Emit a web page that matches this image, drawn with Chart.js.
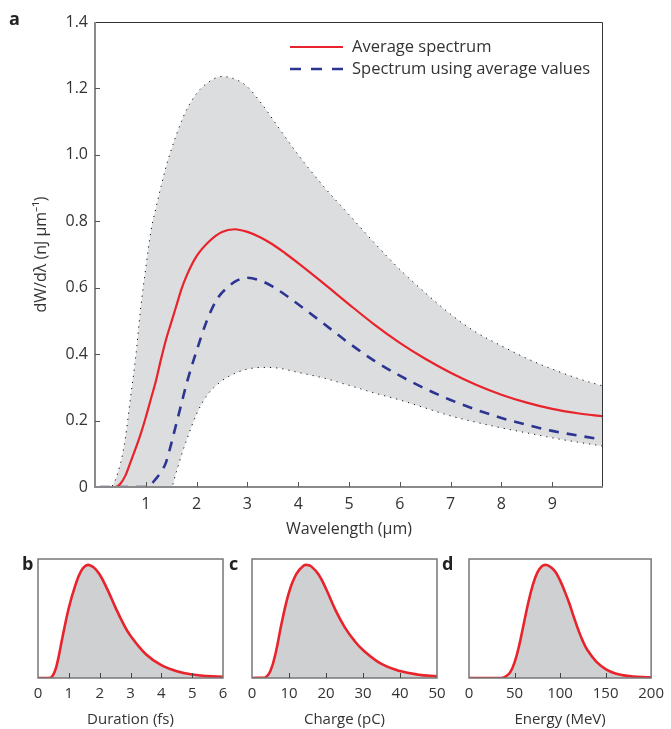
<!DOCTYPE html>
<html><head><meta charset="utf-8">
<script src="https://cdn.jsdelivr.net/npm/chart.js@4/dist/chart.umd.min.js"></script>
<style>
body{margin:0;background:#fff;width:671px;height:729px;position:relative;overflow:hidden;font-family:'Open Sans',sans-serif}
.box{position:absolute}
.lbl{position:absolute;font:bold 18px 'Open Sans',sans-serif;line-height:18px;color:#222}
</style></head><body>
<div class="box" style="left:0;top:0;width:671px;height:540px"><canvas id="main" width="671" height="540"></canvas></div>
<div class="box" style="left:10px;top:545px;width:230px;height:184px"><canvas id="pb" width="230" height="184"></canvas></div>
<div class="box" style="left:224px;top:545px;width:230px;height:184px"><canvas id="pc" width="230" height="184"></canvas></div>
<div class="box" style="left:441px;top:545px;width:230px;height:184px"><canvas id="pd" width="230" height="184"></canvas></div>
<div class="lbl" style="left:9px;top:9px">a</div>
<div class="lbl" style="left:22px;top:554px">b</div>
<div class="lbl" style="left:229px;top:554px">c</div>
<div class="lbl" style="left:442px;top:554px">d</div>
<script>
// ---- main panel (a) data ----
const envX  = [0.1,0.3,0.5,0.6,0.7,0.8,0.9,1.0,1.1,1.2,1.3,1.4,1.5,1.6,1.7,1.8,2.0,2.2,2.5,2.8,3.0,3.3,3.6,4.0,4.5,5.0,5.5,6.0,6.5,7.0,7.5,8.0,8.5,9.0,9.5,10];
const upperY = [0,0,0.07,0.15,0.27,0.39,0.54,0.66,0.77,0.84,0.905,0.965,1.015,1.06,1.10,1.135,1.185,1.215,1.236,1.225,1.205,1.15,1.085,1.0,0.905,0.82,0.735,0.655,0.585,0.52,0.466,0.425,0.387,0.355,0.327,0.304];
const lowerY = [0,0,0,0,0,0,0,0,0,0,0,0,0,0.045,0.095,0.14,0.22,0.275,0.32,0.345,0.355,0.36,0.358,0.345,0.328,0.306,0.283,0.262,0.238,0.214,0.195,0.178,0.163,0.148,0.135,0.123];
const avgX = [0.1,0.4,0.5,0.6,0.7,0.8,0.9,1.0,1.1,1.2,1.3,1.4,1.5,1.6,1.7,1.8,2.0,2.25,2.5,2.75,3.0,3.25,3.5,3.75,4.0,4.5,5.0,5.5,6.0,6.5,7.0,7.5,8.0,8.5,9.0,9.5,10];
const avgY = [0,0,0.01,0.035,0.075,0.116,0.16,0.21,0.265,0.32,0.385,0.445,0.495,0.545,0.595,0.635,0.695,0.74,0.768,0.776,0.768,0.752,0.73,0.703,0.674,0.613,0.55,0.489,0.434,0.386,0.344,0.308,0.278,0.254,0.235,0.222,0.213];
const avgValX = [0.1,1.0,1.1,1.2,1.3,1.4,1.5,1.6,1.7,1.8,2.0,2.2,2.4,2.6,2.8,3.0,3.25,3.5,3.75,4.0,4.5,5.0,5.5,6.0,6.5,7.0,7.5,8.0,8.5,9.0,9.5,10];
const avgValY = [0,0,0.008,0.025,0.045,0.075,0.13,0.19,0.25,0.31,0.41,0.50,0.565,0.60,0.622,0.63,0.622,0.603,0.578,0.55,0.492,0.433,0.38,0.335,0.296,0.262,0.233,0.208,0.187,0.169,0.155,0.143];
const xTicks = [1,2,3,4,5,6,7,8,9];
const xTickLabels = ['1','2','3','4','5','6','7','8','9'];
const yTicks = [0,0.2,0.4,0.6,0.8,1.0,1.2,1.4];
const yTickLabels = ['0','0.2','0.4','0.6','0.8','1.0','1.2','1.4'];
const legendLabels = ['Average spectrum','Spectrum using average values'];

// ---- small panels (b, c, d) data ----
const durX = [0,0.3,0.45,0.6,0.8,1.0,1.2,1.4,1.6,1.8,2.0,2.25,2.5,2.75,3.0,3.5,4.0,4.5,5.0,5.5,6.0];
const durY = [0,0,0.01,0.1,0.35,0.59,0.77,0.9,0.95,0.93,0.87,0.745,0.6,0.465,0.355,0.2,0.108,0.057,0.029,0.016,0.011];
const chgX = [0,3.5,5,6.5,8,10,12,14,15,16,18,20,22.5,25,27.5,30,35,40,45,50];
const chgY = [0,0.003,0.06,0.225,0.46,0.72,0.875,0.945,0.95,0.938,0.87,0.75,0.575,0.43,0.32,0.235,0.118,0.058,0.028,0.014];
const enX = [0,35,40,45,50,55,60,65,70,75,80,85,90,95,100,105,110,115,120,125,130,140,150,160,170,180,190,200];
const enY = [0,0,0.012,0.045,0.13,0.27,0.45,0.63,0.78,0.885,0.94,0.95,0.93,0.89,0.82,0.73,0.63,0.515,0.405,0.31,0.235,0.135,0.075,0.04,0.022,0.013,0.008,0.006];

const RED = '#e8232b', BLUE = '#2d3592', ENV = '#dcdddf', SMALLFILL = '#cfd0d2', TXT = '#333', AXG = '#8a8a8a';
const FONT = {family:"'Open Sans', sans-serif", size:16};
const SFONT = {family:"'Open Sans', sans-serif", size:15};
const pts = (xs, ys) => xs.map((x, i) => ({x, y: ys[i]}));

const mainFrame = {
  id:'mainFrame',
  afterDraw(chart){
    const {ctx, chartArea:a, scales} = chart;
    ctx.save();
    ctx.strokeStyle = '#333'; ctx.lineWidth = 1;
    ctx.beginPath(); ctx.moveTo(a.left, a.top+0.5); ctx.lineTo(a.right-0.5, a.top+0.5); ctx.lineTo(a.right-0.5, a.bottom); ctx.stroke();
    ctx.strokeStyle = AXG; ctx.lineWidth = 2;
    ctx.beginPath(); ctx.moveTo(a.left, a.top); ctx.lineTo(a.left, a.bottom); ctx.lineTo(a.right, a.bottom); ctx.stroke();
    ctx.lineWidth = 1; ctx.strokeStyle = '#555';
    ctx.beginPath();
    scales.x.ticks.forEach(t => { const px = Math.round(scales.x.getPixelForValue(t.value)) + 0.5; ctx.moveTo(px, a.bottom); ctx.lineTo(px, a.bottom - 5); });
    scales.y.ticks.forEach(t => { if (t.value <= 0 || t.value >= 1.4) return; const py = Math.round(scales.y.getPixelForValue(t.value)) + 0.5; ctx.moveTo(a.left, py); ctx.lineTo(a.left + 5, py); });
    ctx.stroke();
    // legend
    const ds = chart.data.datasets;
    const lx0 = 290, lx1 = 343, tx = 352, ys = [47, 69];
    [0,1].forEach(i => {
      ctx.strokeStyle = ds[i].borderColor; ctx.lineWidth = ds[i].borderWidth;
      ctx.setLineDash(i === 1 ? [11,10] : []);
      ctx.beginPath(); ctx.moveTo(lx0, ys[i]); ctx.lineTo(lx1, ys[i]); ctx.stroke();
      ctx.setLineDash([]);
      ctx.fillStyle = TXT; ctx.font = "16.5px 'Open Sans', sans-serif"; ctx.textBaseline = 'middle'; ctx.textAlign = 'left';
      ctx.fillText(ds[i].label, tx, ys[i]);
    });
    ctx.restore();
  }
};

new Chart(document.getElementById('main'), {
  type:'line',
  data:{datasets:[
    {label:legendLabels[0], data:pts(avgX, avgY), borderColor:RED, borderWidth:2.2, pointRadius:0, fill:false, cubicInterpolationMode:'monotone'},
    {label:legendLabels[1], data:pts(avgValX, avgValY), borderColor:BLUE, borderWidth:2.6, borderDash:[10,8], pointRadius:0, fill:false, cubicInterpolationMode:'monotone'},
    {label:'upper', data:pts(envX, upperY), borderColor:'#111', borderWidth:1, borderDash:[1.2,5], pointRadius:0, fill:'+1', backgroundColor:ENV, cubicInterpolationMode:'monotone'},
    {label:'lower', data:pts(envX, lowerY), borderColor:'#111', borderWidth:1, borderDash:[1.2,5], pointRadius:0, fill:false, cubicInterpolationMode:'monotone'}
  ]},
  options:{
    responsive:false, animation:false, devicePixelRatio:1,
    layout:{padding:{left:0, right:68, top:22, bottom:0}},
    plugins:{legend:{display:false}, tooltip:{enabled:false}, filler:{drawTime:'beforeDatasetsDraw'}},
    scales:{
      x:{type:'linear', min:0, max:10,
         afterBuildTicks:s=>{ s.ticks = xTicks.map(v=>({value:v})); },
         afterFit:s=>{ s.height = 53; },
         grid:{display:false, drawTicks:false}, border:{display:false},
         ticks:{padding:8, color:TXT, font:FONT, maxRotation:0, autoSkip:false, callback:(v,i)=>xTickLabels[i]},
         title:{display:true, text:'Wavelength (μm)', color:TXT, font:FONT, padding:{top:0, bottom:1}}},
      y:{type:'linear', min:0, max:1.4,
         afterBuildTicks:s=>{ s.ticks = yTicks.map(v=>({value:v})); },
         afterFit:s=>{ s.width = 95; },
         grid:{display:false, drawTicks:false}, border:{display:false},
         ticks:{padding:7, color:TXT, font:FONT, autoSkip:false, callback:(v,i)=>yTickLabels[i]},
         title:{display:true, text:'dW/dλ (nJ μm⁻¹)', color:TXT, font:FONT, padding:{top:32, bottom:0}}}
    }
  },
  plugins:[mainFrame]
});

const smallFrame = {
  id:'smallFrame',
  afterDraw(chart){
    const {ctx, chartArea:a, scales} = chart;
    ctx.save();
    ctx.strokeStyle = '#777'; ctx.lineWidth = 1.5;
    ctx.strokeRect(a.left, a.top, a.right - a.left, a.bottom - a.top);
    ctx.lineWidth = 1; ctx.strokeStyle = '#444';
    ctx.beginPath();
    scales.x.ticks.forEach(t => {
      if (t.value <= scales.x.min || t.value >= scales.x.max) return;
      const px = Math.round(scales.x.getPixelForValue(t.value)) + 0.5; ctx.moveTo(px, a.bottom); ctx.lineTo(px, a.bottom - 5);
    });
    ctx.stroke();
    ctx.restore();
  }
};

function small(id, xs, ys, xmax, step, title){
  new Chart(document.getElementById(id), {
    type:'line',
    data:{datasets:[{data:pts(xs, ys), borderColor:RED, borderWidth:2.6, pointRadius:0, fill:'origin', backgroundColor:SMALLFILL, tension:0.4}]},
    options:{
      responsive:false, animation:false, devicePixelRatio:1,
      layout:{padding:{left:28, right:17, top:14, bottom:0}},
      plugins:{legend:{display:false}, tooltip:{enabled:false}},
      scales:{
        x:{type:'linear', min:0, max:xmax, afterFit:s=>{ s.height = 51; },
           grid:{display:false, drawTicks:false}, border:{display:false},
           ticks:{stepSize:step, padding:7, color:TXT, font:SFONT, maxRotation:0, autoSkip:false},
           title:{display:true, text:title, color:TXT, font:SFONT, padding:{top:0, bottom:0}}},
        y:{type:'linear', min:0, max:1, display:false}
      }
    },
    plugins:[smallFrame]
  });
}
small('pb', durX, durY, 6, 1, 'Duration (fs)');
small('pc', chgX, chgY, 50, 10, 'Charge (pC)');
small('pd', enX, enY, 200, 50, 'Energy (MeV)');
</script>
</body></html>
